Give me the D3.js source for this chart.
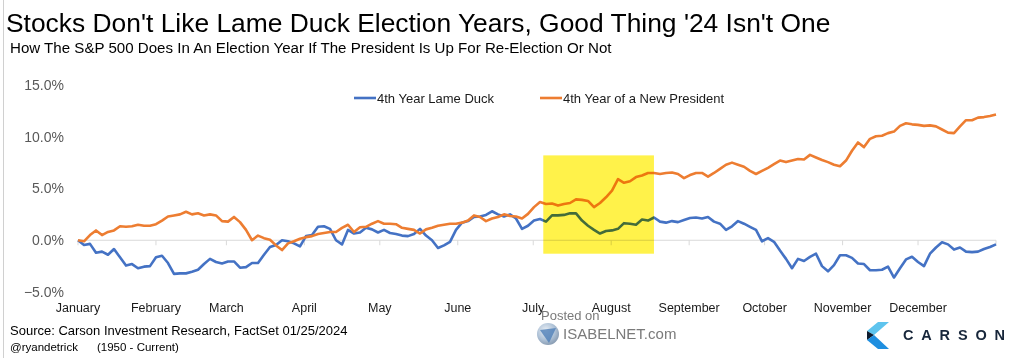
<!DOCTYPE html>
<html>
<head>
<meta charset="utf-8">
<script src="https://cdn.jsdelivr.net/npm/d3@7"></script>
<style>
  html, body { margin: 0; padding: 0; background: #fff; }
  svg { display: block; font-family: "Liberation Sans", Arial, sans-serif; }
</style>
</head>
<body>
<svg id="chart" width="1024" height="360"></svg>
<script>
// ---- data ----
const seriesNames = ["4th Year Lame Duck", "4th Year of a New President"];
const lameDuck = [
  0, -0.45, -0.35, -1.2, -1.1, -1.4, -0.85, -1.65, -2.45, -2.3,
  -2.7, -2.55, -2.5, -1.65, -1.5, -2.2, -3.25, -3.2, -3.2, -3.05,
  -2.85, -2.3, -1.8, -2.1, -2.25, -2.05, -2.05, -2.65, -2.6, -2.2,
  -2.2, -1.4, -0.65, -0.45, 0.0, -0.1, -0.3, -0.6, 0.4, 0.5,
  1.3, 1.35, 1.1, 0.0, -0.4, 1.0, 0.65, 0.75, 1.2, 1.05,
  0.75, 1.0, 0.7, 0.6, 0.45, 0.4, 0.6, 1.1, 0.45, 0.0,
  -0.75, -0.5, -0.15, 1.0, 1.7, 1.85, 2.25, 2.3, 2.45, 2.8,
  2.5, 2.3, 2.5, 2.1, 1.1, 1.4, 1.9, 2.05, 1.8, 2.4,
  2.4, 2.45, 2.6, 2.6, 1.9, 1.4, 1.0, 0.65, 0.9, 0.95,
  1.1, 1.65, 1.6, 1.5, 2.0, 1.9, 2.2, 1.8, 1.7, 1.85,
  1.75, 1.95, 2.15, 2.2, 2.1, 2.25, 1.8, 1.6, 1.0, 1.35,
  1.85, 1.6, 1.3, 1.0, -0.1, 0.2, -0.15, -1.0, -1.8, -2.7,
  -1.8, -2.0, -1.6, -1.3, -2.5, -3.0, -2.4, -1.45, -1.45, -1.7,
  -2.25, -2.3, -2.9, -2.9, -2.85, -2.55, -3.6, -2.7, -1.85, -1.6,
  -2.1, -2.5, -1.3, -0.7, -0.2, -0.4, -0.9, -0.7, -1.1, -1.15,
  -1.1, -0.85, -0.65, -0.4
];
const newPresident = [
  0, -0.1, 0.5, 0.95, 0.5, 0.8, 0.95, 1.35, 1.3, 1.35,
  1.5, 1.4, 1.4, 1.55, 1.9, 2.3, 2.4, 2.5, 2.75, 2.5,
  2.6, 2.4, 2.5, 2.4, 1.85, 1.8, 2.25, 1.75, 1.0, 0.0,
  0.45, 0.2, 0.05, -0.5, -0.95, -0.3, -0.1, 0.15, 0.3, 0.4,
  0.6, 0.7, 0.8, 0.8, 1.2, 1.5, 0.8, 1.25, 1.3, 1.6,
  1.85, 1.6, 1.6, 1.55, 1.2, 1.1, 1.0, 0.65, 1.05, 1.2,
  1.4, 1.5, 1.6, 1.6, 1.7, 1.9, 2.4, 2.25, 1.85, 2.1,
  2.25, 2.5, 2.35, 2.3, 2.1, 2.55, 3.2, 3.7, 3.5, 3.55,
  3.35, 3.5, 3.6, 3.95, 3.9, 3.8, 3.2, 3.6, 4.15, 4.8,
  5.9, 5.55, 5.7, 6.1, 6.25, 6.5, 6.5, 6.4, 6.5, 6.55,
  6.4, 6.0, 6.3, 6.5, 6.5, 6.15, 6.5, 6.9, 7.3, 7.5,
  7.3, 7.1, 6.7, 6.4, 6.7, 7.0, 7.35, 7.7, 7.55, 7.7,
  7.85, 7.8, 8.25, 8.0, 7.75, 7.55, 7.3, 7.15, 7.7, 8.65,
  9.45, 9.0, 9.8, 10.05, 10.1, 10.35, 10.5, 11.05, 11.3, 11.2,
  11.15, 11.05, 11.1, 11.0, 10.7, 10.4, 10.35, 11.0, 11.6, 11.6,
  11.85, 11.9, 12.0, 12.15
];
const months = ["January","February","March","April","May","June","July","August","September","October","November","December"];
const monthStartDay = [0, 31, 59, 90, 120, 151, 181, 212, 243, 273, 304, 334, 365];
const yTicks = [-5, 0, 5, 10, 15];
const highlightDays = [185, 229];     // early July -> mid August
const highlightRange = [-1.3, 8.2];   // % range covered by box

// ---- layout ----
const svg = d3.select("#chart");
const X0 = 78, X1 = 996;
const x = d3.scaleLinear().domain([0, lameDuck.length - 1]).range([X0, X1]);
const xDay = d3.scaleLinear().domain([0, 365]).range([X0, X1]);
const y = d3.scaleLinear().domain([-5, 15]).range([292, 85]);

// frame line at left
svg.append("line").attr("x1", 3.5).attr("x2", 3.5).attr("y1", 0).attr("y2", 358)
  .attr("stroke", "#d0d0d0").attr("stroke-width", 1);

// title + subtitle
svg.append("text").attr("x", 6).attr("y", 32).attr("font-size", 26.4).attr("fill", "#000")
  .text("Stocks Don't Like Lame Duck Election Years, Good Thing '24 Isn't One");
svg.append("text").attr("x", 10).attr("y", 53).attr("font-size", 15.1).attr("fill", "#000")
  .text("How The S&P 500 Does In An Election Year If The President Is Up For Re-Election Or Not");

// y axis labels
svg.append("g").selectAll("text").data(yTicks).join("text")
  .attr("x", 64).attr("y", d => y(d)).attr("dy", "0.35em")
  .attr("text-anchor", "end").attr("font-size", 14).attr("fill", "#595959")
  .text(d => d3.format(".1f")(d) + "%");

// zero line and month ticks
svg.append("line").attr("x1", X0).attr("x2", X1).attr("y1", y(0)).attr("y2", y(0))
  .attr("stroke", "#d9d9d9").attr("stroke-width", 1);
svg.append("g").selectAll("line").data(monthStartDay).join("line")
  .attr("x1", d => xDay(d)).attr("x2", d => xDay(d))
  .attr("y1", y(0)).attr("y2", y(0) + 5)
  .attr("stroke", "#d9d9d9").attr("stroke-width", 1);

// month labels
svg.append("g").selectAll("text").data(months).join("text")
  .attr("x", (d, i) => xDay(monthStartDay[i])).attr("y", 312)
  .attr("text-anchor", "middle").attr("font-size", 12.5).attr("fill", "#1a1a1a")
  .text(d => d);

// lines
const line = d3.line().x((d, i) => x(i)).y(d => y(d));
svg.append("path").datum(lameDuck).attr("d", line)
  .attr("fill", "none").attr("stroke", "#4472C4").attr("stroke-width", 2.6)
  .attr("stroke-linejoin", "round");
svg.append("path").datum(newPresident).attr("d", line)
  .attr("fill", "none").attr("stroke", "#ED7D31").attr("stroke-width", 2.6)
  .attr("stroke-linejoin", "round");

// highlight box (multiply blend so blue turns green beneath)
svg.append("rect")
  .attr("x", xDay(highlightDays[0])).attr("width", xDay(highlightDays[1]) - xDay(highlightDays[0]))
  .attr("y", y(highlightRange[1])).attr("height", y(highlightRange[0]) - y(highlightRange[1]))
  .attr("fill", "#FFF24A").style("mix-blend-mode", "multiply");

// legend
const legend = [
  { name: seriesNames[0], color: "#4472C4", x: 354 },
  { name: seriesNames[1], color: "#ED7D31", x: 540 }
];
const lg = svg.append("g").selectAll("g").data(legend).join("g")
  .attr("transform", d => `translate(${d.x},98)`);
lg.append("line").attr("x1", 0).attr("x2", 22).attr("y1", 0).attr("y2", 0)
  .attr("stroke", d => d.color).attr("stroke-width", 2.6);
lg.append("text").attr("x", 23).attr("y", 0).attr("dy", "0.35em")
  .attr("font-size", 13).attr("fill", "#1a1a1a").text(d => d.name);

// footer
svg.append("text").attr("x", 10).attr("y", 335).attr("font-size", 13).attr("fill", "#000")
  .text("Source: Carson Investment Research, FactSet 01/25/2024");
svg.append("text").attr("x", 10).attr("y", 351).attr("font-size", 11.5).attr("fill", "#000")
  .text("@ryandetrick");
svg.append("text").attr("x", 97).attr("y", 351).attr("font-size", 11.5).attr("fill", "#000")
  .text("(1950 - Current)");

// watermark
svg.append("text").attr("x", 541).attr("y", 320).attr("font-size", 13).attr("fill", "#7a7a7a")
  .text("Posted on");
const grad = svg.append("defs").append("radialGradient").attr("id", "wm")
  .attr("cx", "40%").attr("cy", "35%").attr("r", "70%");
grad.append("stop").attr("offset", "0%").attr("stop-color", "#e8eef5");
grad.append("stop").attr("offset", "60%").attr("stop-color", "#9fb6cf");
grad.append("stop").attr("offset", "100%").attr("stop-color", "#6f86a0");
svg.append("circle").attr("cx", 548).attr("cy", 334).attr("r", 11).attr("fill", "url(#wm)").attr("opacity", 0.85);
svg.append("path").attr("d", "M540,330 L556,328 L549,343 Z").attr("fill", "#4f7fb8").attr("opacity", 0.8);
svg.append("text").attr("x", 563).attr("y", 338.5).attr("font-size", 15).attr("fill", "#7a7a7a")
  .text("ISABELNET.com");

// Carson logo
svg.append("polygon").attr("points", "878,322 889,322 874,335 867,331").attr("fill", "#5EC4EE");
svg.append("polygon").attr("points", "867,331 874,335 867,340").attr("fill", "#0d1b2e");
svg.append("polygon").attr("points", "867,340 874,335 889,349 878,349").attr("fill", "#1f8fe0");
svg.append("text").attr("x", 903).attr("y", 340).attr("font-size", 14.5).attr("font-weight", 700)
  .attr("fill", "#17263a").attr("textLength", 102).attr("lengthAdjust", "spacing")
  .text("CARSON");
</script>
</body>
</html>
